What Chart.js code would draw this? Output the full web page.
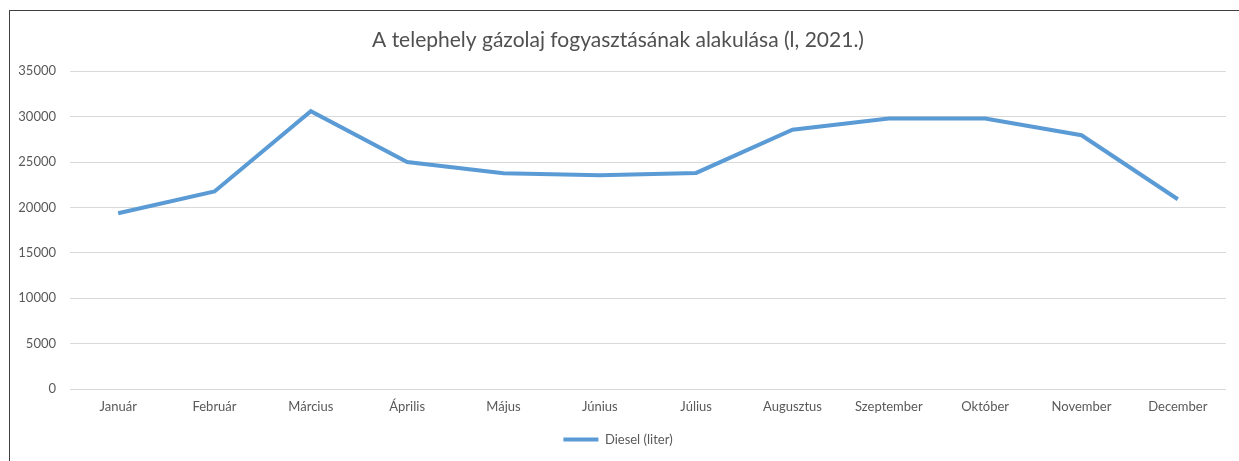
<!DOCTYPE html>
<html>
<head>
<meta charset="utf-8">
<script src="https://cdn.jsdelivr.net/npm/chart.js@4"></script>
<style>
    html, body { margin: 0; padding: 0; background: #fff; overflow: hidden; }
    #frame {
        position: absolute; left: 9px; top: 10px;
        width: 1240px; height: 460px;
        border-left: 1px solid #404040; border-top: 1px solid #404040;
    }
    #chart { display: block; }
</style>
</head>
<body>
<div id="frame"><canvas id="chart" width="1229" height="450"></canvas></div>
<script>
const months = ['Január', 'Február', 'Március', 'Április', 'Május', 'Június', 'Július', 'Augusztus', 'Szeptember', 'Október', 'November', 'December'];
const diesel = [19350, 21750, 30600, 25000, 23750, 23550, 23800, 28550, 29800, 29800, 27950, 20900];
const yTicks = [0, 5000, 10000, 15000, 20000, 25000, 30000, 35000];

const FONT = 'Lato, "Open Sans", sans-serif';
const GREY = '#595959';

const ctx = document.getElementById('chart').getContext('2d');
new Chart(ctx, {
    type: 'line',
    data: {
        labels: months,
        datasets: [{
            label: 'Diesel (liter)',
            data: diesel,
            borderColor: '#5B9BD5',
            backgroundColor: '#5B9BD5',
            borderWidth: 4,
            pointRadius: 0,
            tension: 0,
            fill: false
        }]
    },
    options: {
        responsive: false,
        animation: false,
        layout: { padding: { left: 0, right: 13, top: 0, bottom: 5 } },
        plugins: {
            title: {
                display: true,
                text: 'A telephely gázolaj fogyasztásának alakulása (l, 2021.)',
                color: '#505050',
                font: { family: FONT, size: 21, weight: 'normal' },
                padding: { top: 17, bottom: 18 }
            },
            legend: {
                position: 'bottom',
                labels: {
                    color: GREY,
                    font: { family: FONT, size: 13 },
                    boxWidth: 35,
                    boxHeight: 4,
                    padding: 10,
                    generateLabels: chart => Chart.defaults.plugins.legend.labels.generateLabels(chart).map(l => ({ ...l, lineWidth: 0 }))
                }
            },
            tooltip: { enabled: false }
        },
        scales: {
            x: {
                offset: true,
                grid: { display: false, drawTicks: false },
                border: { display: false },
                ticks: { color: GREY, font: { family: FONT, size: 13 }, padding: 10, maxRotation: 0 },
                afterFit: s => { s.height = 34; }
            },
            y: {
                min: 0,
                max: 35000,
                afterBuildTicks: s => { s.ticks = yTicks.map(v => ({ value: v })); },
                grid: { color: '#d9d9d9', lineWidth: 1, drawTicks: false },
                border: { display: false },
                ticks: { color: GREY, font: { family: FONT, size: 13 }, padding: 14, callback: v => String(v) },
                afterFit: s => { s.width = 60; }
            }
        }
    }
});
</script>
</body>
</html>
